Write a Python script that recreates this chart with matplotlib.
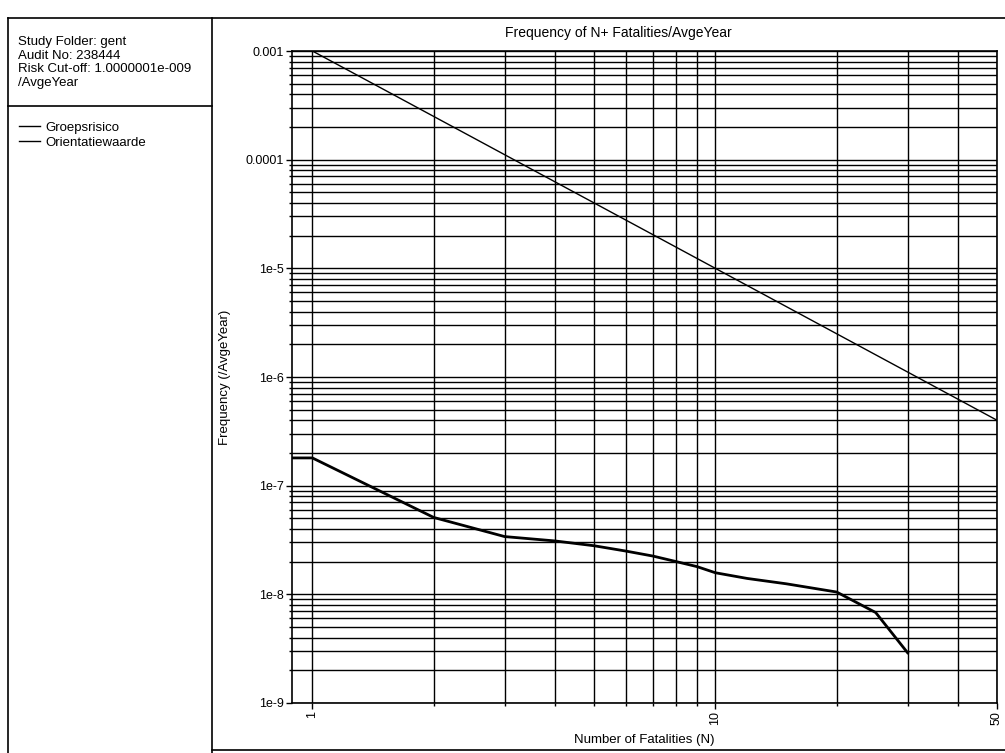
import numpy as np
import matplotlib
matplotlib.use("Agg")
import matplotlib.pyplot as plt
from matplotlib.lines import Line2D
from matplotlib.ticker import LogLocator, FixedLocator, NullFormatter

plt.rcParams['font.family'] = ['Liberation Sans', 'DejaVu Sans']

# FN-curve (Groepsrisico)
n_group = [0.89, 1, 2, 3, 4, 5, 6, 7, 8, 9, 10, 12, 15, 20, 25, 30]
f_group = [1.8e-7, 1.8e-7, 5.1e-8, 3.4e-8, 3.1e-8, 2.8e-8, 2.5e-8, 2.25e-8,
           2.0e-8, 1.8e-8, 1.58e-8, 1.4e-8, 1.25e-8, 1.05e-8, 6.8e-9, 2.9e-9]

# Orientatiewaarde: 1e-3 / N^2
n_orient = [1, 10, 50]
f_orient = [1e-3, 1e-5, 4e-7]

y_ticks = [1e-3, 1e-4, 1e-5, 1e-6, 1e-7, 1e-8, 1e-9]
y_labels = ['0.001', '0.0001', '1e-5', '1e-6', '1e-7', '1e-8', '1e-9']
x_ticks = [1, 10, 50]
x_labels = ['1', '10', '50']
x_grid = [1, 2, 3, 4, 5, 6, 7, 8, 9, 10, 20, 30, 40, 50]

header = ["Study Folder: gent", "Audit No: 238444",
          "Risk Cut-off: 1.0000001e-009", "/AvgeYear"]

W, H = 1005, 753
fig = plt.figure(figsize=(W / 100, H / 100), dpi=100)


def fx(px):
    return px / W


def fy(py):
    return 1 - py / H


# page frames
for (x0, y0, x1, y1) in [(8, 18, 8, 760), (8, 18, 1010, 18), (212, 18, 212, 760),
                         (8, 106, 212, 106), (212, 750, 1010, 750)]:
    fig.add_artist(Line2D([fx(x0), fx(x1)], [fy(y0), fy(y1)], color='black', lw=1.2))

# header text
for i, t in enumerate(header):
    fig.text(fx(18), fy(42 + i * 13.7), t, fontsize=9.5, va='center', ha='left')

ax = fig.add_axes([fx(292), fy(703), fx(997) - fx(292), fy(51) - fy(703)])
ax.set_xscale('log')
ax.set_yscale('log')
ax.set_xlim(0.89, 50)
ax.set_ylim(1e-9, 1e-3)

l1, = ax.plot(n_group, f_group, color='black', lw=2.0, label='Groepsrisico', zorder=3)
l2, = ax.plot(n_orient, f_orient, color='black', lw=1.0, label='Orientatiewaarde', zorder=3)

ax.yaxis.set_major_locator(FixedLocator(y_ticks))
ax.set_yticklabels(y_labels)
ax.yaxis.set_minor_locator(LogLocator(base=10, subs=np.arange(2, 10), numticks=20))
ax.yaxis.set_minor_formatter(NullFormatter())

ax.xaxis.set_major_locator(FixedLocator(x_ticks))
ax.set_xticklabels(x_labels, rotation=90)
ax.xaxis.set_minor_locator(FixedLocator([v for v in x_grid if v not in x_ticks]))
ax.xaxis.set_minor_formatter(NullFormatter())

ax.grid(True, which='both', axis='y', color='black', lw=1.0)
ax.grid(True, which='both', axis='x', color='black', lw=1.0)
ax.tick_params(axis='both', which='major', direction='out', length=4, width=1,
               labelsize=9, pad=2)
ax.tick_params(axis='both', which='minor', direction='out', length=2, width=1)
for s in ax.spines.values():
    s.set_linewidth(1.2)

ax.set_ylabel('Frequency (/AvgeYear)', fontsize=9.5, labelpad=10)
ax.set_xlabel('Number of Fatalities (N)', fontsize=9.5, labelpad=6)
fig.text(fx(618), fy(33), 'Frequency of N+ Fatalities/AvgeYear', fontsize=10,
         ha='center', va='center')

fig.legend(handles=[l2, l2], labels=['Groepsrisico', 'Orientatiewaarde'],
           loc='upper left', bbox_to_anchor=(fx(14), fy(116)),
           frameon=False, fontsize=9.5, handlelength=1.6, handletextpad=0.4,
           labelspacing=0.25, borderaxespad=0)

fig.savefig('out.png', dpi=100)
